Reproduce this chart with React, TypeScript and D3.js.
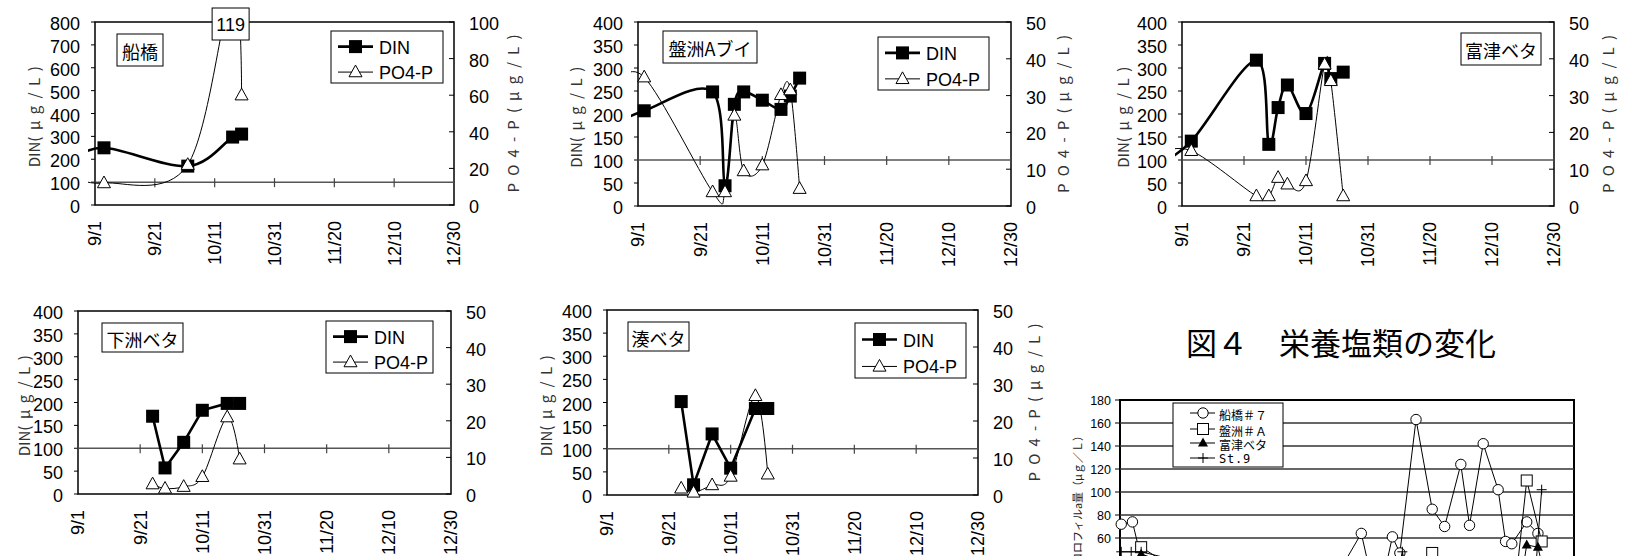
import React from "react";
import * as d3 from "d3";

const JP = "'Noto Sans CJK JP', 'Noto Sans', sans-serif";
const SANS = "'Liberation Sans', Arial, sans-serif";

// x axis of the nutrient panels
const tickDates = ["9/1", "9/21", "10/11", "10/31", "11/20", "12/10", "12/30"];

// 船橋
const funaDates = ["8/24", "9/4", "10/2", "10/17", "10/20"];
const funaDIN = [190, 250, 170, 297, 310];
const funaPO4 = [16, 12, 22, 119, 60];

// 盤洲Aブイ
const banDates = ["8/24", "9/3", "9/25", "9/29", "10/2", "10/5", "10/11", "10/17", "10/20", "10/23"];
const banDIN = [175, 207, 248, 44, 221, 248, 230, 210, 239, 278];
const banPO4 = [32, 35, 3.8, 3.8, 24.6, 9.5, 11.1, 30.2, 31.5, 4.7];

// 富津ベタ
const futDates = ["8/24", "9/4", "9/25", "9/29", "10/2", "10/5", "10/11", "10/17", "10/19", "10/23"];
const futDIN = [90, 141, 317, 134, 214, 263, 201, 310, 277, 291];
const futPO4 = [14, 15, 2.7, 2.7, 7.7, 5.9, 6.8, 38.5, 34, 2.7];

// 下洲ベタ
const shiDates = ["9/25", "9/29", "10/5", "10/11", "10/19", "10/23"];
const shiDIN = [170, 57, 113, 183, 198, 198];
const shiPO4 = [2.7, 1.5, 2.0, 4.7, 21, 9.5];

// 湊ベタ
const minDates = ["9/25", "9/29", "10/5", "10/11", "10/19", "10/23"];
const minDIN = [202, 22, 132, 58, 187, 187];
const minPO4 = [1.8, 0.7, 2.7, 5, 26.8, 5.6];

// chlorophyll chart (day of period, value)
const chlSeriesNames = ["船橋＃７", "盤洲＃Ａ", "富津ベタ", "St.9"];
const funa7Days = [1, 10, 18, 48, 88, 129, 161, 173, 194, 207, 219, 225, 238, 251, 261, 274, 281, 292, 304, 310, 315, 327, 336];
const funa7Chl = [72, 74, 38, 20, 15, 25, 18, 25, 64, 2, 61, 47, 163, 85, 70, 124, 71, 142, 102, 57, 55, 74, 64];
const banADays = [17, 64, 145, 241, 251, 265, 317, 327, 339];
const banAChl = [52, 20, 25, 22, 47, 20, 10, 110, 57];
const futtsuDays = [17, 105, 225, 322, 327, 336, 344];
const futtsuChl = [46, 15, 20, 20, 54, 52, 15];
const st9Days = [1, 9, 17, 105, 221, 227, 233, 333, 339];
const st9Chl = [48, 48, 48, 25, 20, 48, 20, 15, 102];
const chlTicks = [0, 20, 40, 60, 80, 100, 120, 140, 160, 180];

const mdy = (s: string) => {
  const [m, d] = s.split("/").map(Number);
  return new Date(2003, m - 1, d);
};
const axisStart = mdy(tickDates[0]);
const axisEnd = mdy(tickDates[tickDates.length - 1]);

type Row = { date: Date; din: number; po: number };

const tri = (s: number) => {
  const h = s * 0.9;
  return `M0,${-h * 0.6}L${s / 2},${h * 0.4}L${-s / 2},${h * 0.4}Z`;
};

function Panel(p: any) {
  const x = d3.scaleTime().domain([axisStart, axisEnd]).range([p.left, p.right]);
  const yL = d3.scaleLinear().domain([0, p.dinMax]).range([p.bottom, p.top]);
  const yR = d3.scaleLinear().domain([0, p.poMax]).range([p.bottom, p.top]);
  const rows: Row[] = p.dates.map((d: string, i: number) => ({ date: mdy(d), din: p.din[i], po: p.po4[i] }));
  const shown = rows.filter((r) => r.date >= axisStart);
  const smooth = d3.curveCardinal.tension(0);
  const dinPath = d3
    .line<Row>()
    .x((r) => x(r.date))
    .y((r) => yL(r.din))
    .curve(p.smoothDin ? smooth : d3.curveLinear)(rows);
  const poPath = d3
    .line<Row>()
    .x((r) => x(r.date))
    .y((r) => yR(r.po))
    .curve(smooth)(rows);
  const midY = (p.top + p.bottom) / 2;
  const crossY = yL(100);
  const [bx, by, bw, bh] = p.nameBox;

  return (
    <g>
      <defs>
        <clipPath id={p.id}>
          <rect x={p.left - 7} y={p.top} width={p.right - p.left + 7} height={p.bottom - p.top} />
        </clipPath>
      </defs>
      <rect x={p.left} y={p.top} width={p.right - p.left} height={p.bottom - p.top} fill="#fff" stroke="#000" strokeWidth={1.5} />

      {/* left axis */}
      {d3.range(0, p.dinMax + 1, p.dinStep).map((v) => (
        <g key={"l" + v}>
          <line x1={p.left - 4} x2={p.left} y1={yL(v)} y2={yL(v)} stroke="#000" />
          <text x={p.left - 15} y={yL(v) + 2} textAnchor="end" dominantBaseline="central" fontFamily={SANS} fontSize={18}>
            {v}
          </text>
        </g>
      ))}
      {/* right axis */}
      {d3.range(0, p.poMax + 1, p.poStep).map((v) => (
        <g key={"r" + v}>
          <line x1={p.right - 5} x2={p.right} y1={yR(v)} y2={yR(v)} stroke="#000" />
          <text x={p.right + 15} y={yR(v) + 2} dominantBaseline="central" fontFamily={SANS} fontSize={18}>
            {v}
          </text>
        </g>
      ))}

      {/* category axis crossing at DIN = 100 */}
      <line x1={p.left} x2={p.right} y1={crossY} y2={crossY} stroke="#555" strokeWidth={1.5} />
      {tickDates.map((t) => (
        <g key={t}>
          <line x1={x(mdy(t))} x2={x(mdy(t))} y1={crossY - 4} y2={crossY + 5} stroke="#444" strokeWidth={1.2} />
          <text
            transform={`translate(${x(mdy(t))},${p.bottom + 16}) rotate(-90)`}
            textAnchor="end"
            dy="0.36em"
            fontFamily={SANS}
            fontSize={18}
          >
            {t}
          </text>
        </g>
      ))}

      <text
        transform={`translate(${p.dinLabelX},${midY}) rotate(-90)`}
        textAnchor="middle"
        dominantBaseline="central"
        fontFamily={JP}
        fontSize={15}
        fill="#333"
      >
        <tspan>DIN</tspan>
        <tspan letterSpacing={6.5}>(μg/L)</tspan>
      </text>
      {p.poLabelX != null && (
        <text
          transform={`translate(${p.poLabelX},${midY}) rotate(-90)`}
          textAnchor="middle"
          dominantBaseline="central"
          fontFamily={JP}
          fontSize={15}
          fill="#333"
          textLength={158}
        >
          PO4-P(μg/L)
        </text>
      )}

      {/* DIN */}
      <g clipPath={`url(#${p.id})`}>
        <path d={dinPath || ""} fill="none" stroke="#000" strokeWidth={2.6} />
      </g>
      {shown.map((r, i) => (
        <rect key={"s" + i} x={x(r.date) - 6.5} y={yL(r.din) - 6.5} width={13} height={13} fill="#000" />
      ))}
      {/* PO4-P */}
      <g clipPath={`url(#${p.id})`}>
        <path d={poPath || ""} fill="none" stroke="#000" strokeWidth={1} />
      </g>
      {shown
        .filter((r) => yR(r.po) >= p.top)
        .map((r, i) => (
          <path key={"t" + i} d={tri(13)} transform={`translate(${x(r.date)},${yR(r.po)})`} fill="#fff" stroke="#000" strokeWidth={1} />
        ))}

      {/* station name */}
      <rect x={bx} y={by} width={bw} height={bh} fill="#fff" stroke="#000" strokeWidth={1} />
      <text x={bx + bw / 2} y={by + bh / 2 + 1} textAnchor="middle" dominantBaseline="central" fontFamily={JP} fontSize={18}>
        {p.name}
      </text>

      {p.legend && (() => {
        const [lx, ly, lw, lh] = p.legend;
        const y1 = ly + lh * 0.3;
        const y2 = ly + lh * 0.79;
        return (
          <g>
            <rect x={lx} y={ly} width={lw} height={lh} fill="#fff" stroke="#000" strokeWidth={1} />
            <line x1={lx + 7} x2={lx + 42} y1={y1} y2={y1} stroke="#000" strokeWidth={2.6} />
            <rect x={lx + 24.5 - 6.5} y={y1 - 6.5} width={13} height={13} fill="#000" />
            <text x={lx + 48} y={y1 + 1} dominantBaseline="central" fontFamily={SANS} fontSize={18}>DIN</text>
            <line x1={lx + 7} x2={lx + 42} y1={y2} y2={y2} stroke="#000" strokeWidth={1} />
            <path d={tri(13)} transform={`translate(${lx + 24.5},${y2})`} fill="#fff" stroke="#000" />
            <text x={lx + 48} y={y2 + 1} dominantBaseline="central" fontFamily={SANS} fontSize={18}>PO4-P</text>
          </g>
        );
      })()}

      {p.offScale && (() => {
        const r = shown.find((q) => yR(q.po) < p.top)!;
        const cx = x(r.date) - 2;
        return (
          <g>
            <rect x={cx - 18.5} y={p.top - 14} width={37} height={32} fill="#fff" stroke="#000" strokeWidth={1} />
            <text x={cx} y={p.top + 3} textAnchor="middle" dominantBaseline="central" fontFamily={SANS} fontSize={18}>
              {r.po}
            </text>
          </g>
        );
      })()}
    </g>
  );
}

const panels = [
  { id: "c1", left: 95, right: 454, top: 22, bottom: 205, dinMax: 800, dinStep: 100, poMax: 100, poStep: 20,
    dates: funaDates, din: funaDIN, po4: funaPO4, smoothDin: true, name: "船橋", nameBox: [117, 34, 46, 32],
    legend: [331, 31, 112, 52], dinLabelX: 33, poLabelX: 512, offScale: true },
  { id: "c2", left: 638, right: 1011, top: 22, bottom: 206, dinMax: 400, dinStep: 50, poMax: 50, poStep: 10,
    dates: banDates, din: banDIN, po4: banPO4, smoothDin: true, name: "盤洲Aブイ", nameBox: [663, 31, 94, 32],
    legend: [878, 37, 111, 53], dinLabelX: 575, poLabelX: 1062 },
  { id: "c3", left: 1182, right: 1554, top: 22, bottom: 206, dinMax: 400, dinStep: 50, poMax: 50, poStep: 10,
    dates: futDates, din: futDIN, po4: futPO4, smoothDin: true, name: "富津ベタ", nameBox: [1461, 33, 80, 32],
    legend: null, dinLabelX: 1122, poLabelX: 1607 },
  { id: "c4", left: 78, right: 451, top: 311, bottom: 494, dinMax: 400, dinStep: 50, poMax: 50, poStep: 10,
    dates: shiDates, din: shiDIN, po4: shiPO4, smoothDin: false, name: "下洲ベタ", nameBox: [102, 323, 81, 29],
    legend: [326, 321, 107, 52], dinLabelX: 23, poLabelX: null },
  { id: "c5", left: 607, right: 978, top: 310, bottom: 495, dinMax: 400, dinStep: 50, poMax: 50, poStep: 10,
    dates: minDates, din: minDIN, po4: minPO4, smoothDin: false, name: "湊ベタ", nameBox: [628, 322, 61, 29],
    legend: [855, 323, 111, 55], dinLabelX: 545, poLabelX: 1033 },
];

function ChlChart() {
  const left = 1120, right = 1574, top = 400, bottom = 607;
  const x = d3.scaleLinear().domain([0, 365]).range([left, right]);
  const y = d3.scaleLinear().domain([0, 180]).range([bottom, top]);
  const series = [
    { days: funa7Days, vals: funa7Chl, mark: "circle" },
    { days: banADays, vals: banAChl, mark: "square" },
    { days: futtsuDays, vals: futtsuChl, mark: "tri" },
    { days: st9Days, vals: st9Chl, mark: "plus" },
  ];
  const line = d3.line<[number, number]>().x((d) => x(d[0])).y((d) => y(d[1]));
  const marker = (m: string, cx: number, cy: number, key: string) => {
    if (m === "circle") return <circle key={key} cx={cx} cy={cy} r={5.2} fill="#fff" stroke="#000" />;
    if (m === "square") return <rect key={key} x={cx - 5.5} y={cy - 5.5} width={11} height={11} fill="#fff" stroke="#000" />;
    if (m === "tri") return <path key={key} d={tri(10)} transform={`translate(${cx},${cy})`} fill="#000" />;
    return (
      <g key={key} stroke="#000">
        <line x1={cx - 5} x2={cx + 5} y1={cy} y2={cy} />
        <line x1={cx} x2={cx} y1={cy - 5} y2={cy + 5} />
      </g>
    );
  };
  const lg = { x: 1173, y: 403, w: 110, h: 64 };
  const lgRows = [413, 429, 443, 458];
  return (
    <g>
      <rect x={left} y={top} width={right - left} height={bottom - top} fill="#fff" stroke="#000" strokeWidth={2} />
      {chlTicks.map((v) => (
        <g key={v}>
          {v > 0 && v < 180 && <line x1={left} x2={right} y1={y(v)} y2={y(v)} stroke="#333" strokeWidth={1.4} />}
          <line x1={left - 5} x2={left} y1={y(v)} y2={y(v)} stroke="#000" />
          <text x={left - 9} y={y(v) + 1} textAnchor="end" dominantBaseline="central" fontFamily={SANS} fontSize={12.5}>
            {v}
          </text>
        </g>
      ))}
      <text
        transform={`translate(1077,430) rotate(-90)`}
        textAnchor="end"
        dominantBaseline="central"
        fontFamily={JP}
        fontSize={11}
        fill="#222"
      >
        クロロフィルa量（μｇ／Ｌ）
      </text>
      {series.map((s, si) => {
        const pts = s.days.map((d, i) => [d, s.vals[i]] as [number, number]);
        return (
          <g key={si}>
            <path d={line(pts) || ""} fill="none" stroke="#000" strokeWidth={1} />
            {pts.map((pt, i) => marker(s.mark, x(pt[0]), y(pt[1]), si + "-" + i))}
          </g>
        );
      })}
      <rect x={lg.x} y={lg.y} width={lg.w} height={lg.h} fill="#fff" stroke="#000" strokeWidth={1} />
      {series.map((s, i) => (
        <g key={"lg" + i}>
          <line x1={lg.x + 17} x2={lg.x + 42} y1={lgRows[i]} y2={lgRows[i]} stroke="#000" />
          {marker(s.mark, lg.x + 30, lgRows[i], "lgm" + i)}
          <text
            x={lg.x + 46}
            y={lgRows[i] + 1}
            dominantBaseline="central"
            fontFamily={i === 3 ? "'DejaVu Sans Mono', monospace" : JP}
            fontSize={12}
            letterSpacing={i === 3 ? 0.8 : 0}
          >
            {chlSeriesNames[i]}
          </text>
        </g>
      ))}
    </g>
  );
}

export default function App() {
  return (
    <svg
      width={1630}
      height={556}
      style={{ position: "absolute", left: 0, top: 0, background: "#fff" }}
    >
      <rect width={1630} height={556} fill="#fff" />
      {panels.map((p) => (
        <Panel key={p.id} {...p} />
      ))}
      <text x={1186} y={355} fontFamily={JP} fontSize={31}>
        図４　栄養塩類の変化
      </text>
      <ChlChart />
    </svg>
  );
}
